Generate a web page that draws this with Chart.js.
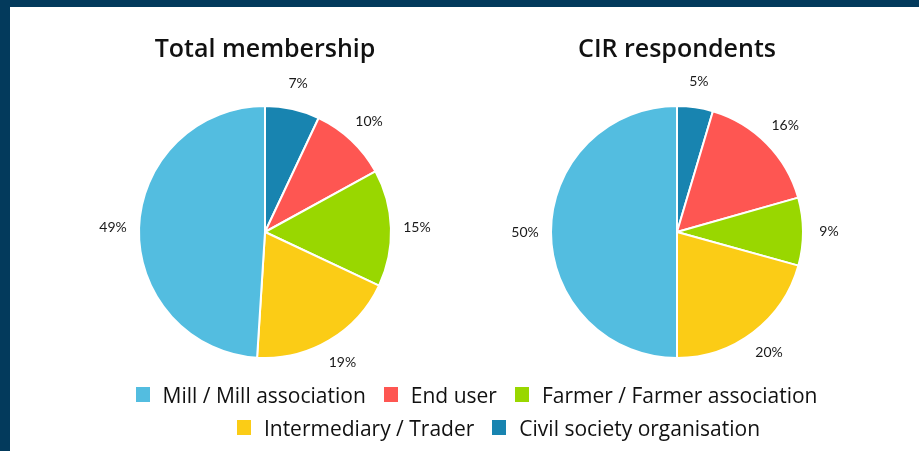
<!DOCTYPE html>
<html>
<head>
<meta charset="utf-8">
<script src="https://cdn.jsdelivr.net/npm/chart.js@4"></script>
<style>
  body { margin: 0; background: #033a5c; width: 919px; height: 451px; overflow: hidden; font-family: "Open Sans", sans-serif; }
  #panel { position: absolute; left: 10px; top: 7px; width: 909px; height: 444px; background: #fff; }
  .pie { position: absolute; top: 0; width: 400px; height: 373px; }
  #legend { position: absolute; left: 0; top: 371px; width: 909px; }
  .row { display: flex; justify-content: center; }
  .item { display: flex; align-items: center; font-size: 21px; color: #111; margin: 0 9px; height: 33px; }
  .box { width: 14px; height: 15px; margin-right: 13px; }
</style>
</head>
<body>
<div id="panel">
  <div class="pie" style="left:55px"><canvas id="pie1"></canvas></div>
  <div class="pie" style="left:467px"><canvas id="pie2"></canvas></div>
  <div id="legend"></div>
</div>
<script>
var categories = ['Civil society organisation', 'End user', 'Farmer / Farmer association', 'Intermediary / Trader', 'Mill / Mill association'];
var colors = ['#1884b0', '#fe5652', '#99d700', '#fbcc16', '#53bde0'];
var membership = [7, 10, 15, 19, 49];
var respondents = [4.6, 16, 8.7, 20.7, 50];
var membershipLabels = ['7%', '10%', '15%', '19%', '49%'];
var respondentLabels = ['5%', '16%', '9%', '20%', '50%'];
var legendRows = [[4, 1, 2], [3, 0]];
var legendShift = [24, 68];

var outsideLabels = {
    id: 'outsideLabels',
    afterDatasetsDraw: function(chart) {
        var ctx = chart.ctx;
        var labels = chart.options.plugins.outsideLabels.labels;
        ctx.save();
        ctx.font = '14px Lato, sans-serif';
        ctx.fillStyle = '#1a1a1a';
        ctx.textAlign = 'center';
        ctx.textBaseline = 'middle';
        chart.getDatasetMeta(0).data.forEach(function(arc, i) {
            var mid = (arc.startAngle + arc.endAngle) / 2;
            var r = arc.outerRadius + 26;
            ctx.fillText(labels[i], arc.x + Math.cos(mid) * r, arc.y + Math.sin(mid) * r);
        });
        ctx.restore();
    }
};

function makePie(id, title, values, labels) {
    return new Chart(document.getElementById(id), {
        type: 'pie',
        data: {
            labels: categories,
            datasets: [{
                data: values,
                backgroundColor: colors,
                borderColor: '#ffffff',
                borderWidth: 2
            }]
        },
        options: {
            responsive: true,
            maintainAspectRatio: false,
            animation: false,
            layout: { padding: { left: 72, right: 72, top: 0, bottom: 21 } },
            plugins: {
                legend: { display: false },
                tooltip: { enabled: false },
                title: {
                    display: true,
                    text: title,
                    color: '#111',
                    font: { family: '"Open Sans", sans-serif', size: 25, weight: '600' },
                    padding: { top: 28, bottom: 40 }
                },
                outsideLabels: { labels: labels }
            }
        },
        plugins: [outsideLabels]
    });
}

makePie('pie1', 'Total membership', membership, membershipLabels);
makePie('pie2', 'CIR respondents', respondents, respondentLabels);

// html legend, two rows like the original
var legend = document.getElementById('legend');
legendRows.forEach(function(rowItems, r) {
    var row = document.createElement('div');
    row.className = 'row';
    row.style.paddingLeft = legendShift[r] + 'px';
    rowItems.forEach(function(i) {
        var item = document.createElement('div');
        item.className = 'item';
        var box = document.createElement('span');
        box.className = 'box';
        box.style.background = colors[i];
        item.appendChild(box);
        item.appendChild(document.createTextNode(categories[i]));
        row.appendChild(item);
    });
    legend.appendChild(row);
});
</script>
</body>
</html>
